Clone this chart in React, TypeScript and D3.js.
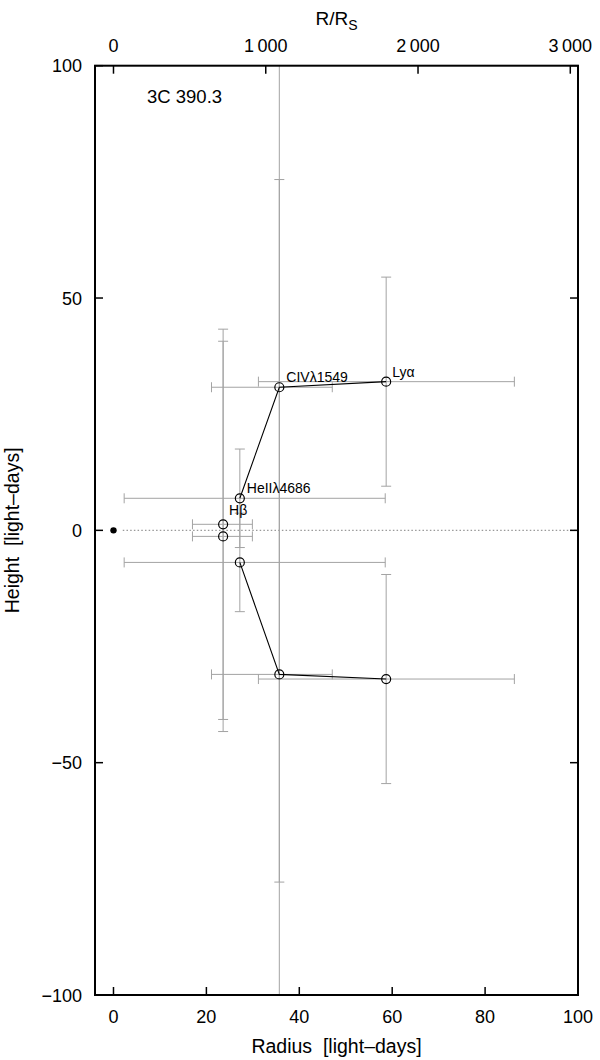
import React from "react";
import * as d3 from "d3";

// Data (light-days)
const lines = ["Hβ", "HeIIλ4686", "CIVλ1549", "Lyα"];
const radius = [23.6, 27.2, 35.7, 58.7];
const radiusLo = [17.0, 2.3, 21.1, 31.2];
const radiusHi = [29.9, 58.5, 47.1, 86.3];
const heightUp = [1.3, 6.9, 30.8, 32.0];
const heightDown = [-1.3, -6.9, -31.0, -32.0];
const heightErrOut = [42.0, 10.6, 44.7, 22.5];
const heightErrIn = [42.0, 10.6, 140.0, 22.5];
const connected = [false, true, true, true];

const xTicks = [0, 20, 40, 60, 80, 100];
const yTicks = [100, 50, 0, -50, -100];
const rsTicks = [0, 1000, 2000, 3000];
const rsTickLabels = ["0", "1\u2009000", "2\u2009000", "3\u2009000"];
const ldPerRs = 0.03278;

const W = 600;
const H = 1060;
const left = 95, right = 578, top = 65.7, bottom = 995;

export default function App() {
  const x = d3.scaleLinear().domain([-3.98, 100]).range([left, right]);
  const y = d3.scaleLinear().domain([-100, 100]).range([bottom, top]);
  const font = "'Liberation Sans', Arial, Helvetica, sans-serif";
  const grey = "#a3a3a3";
  const cap = 5;

  const upper = radius.map((r, i) => ({ r, h: heightUp[i], i, sign: 1 }));
  const lower = radius.map((r, i) => ({ r, h: heightDown[i], i, sign: -1 }));
  const lineGen = d3.line<any>().x((d) => x(d.r)).y((d) => y(d.h));

  const inside = (v: number) => v >= -100 && v <= 100;

  const errBars = (pts: any[]) =>
    pts.map((p) => {
      const i = p.i;
      const cx = x(p.r), cy = y(p.h);
      const x0 = x(radiusLo[i]), x1 = x(radiusHi[i]);
      const outV = p.h + p.sign * heightErrOut[i];
      const inV = p.h - p.sign * heightErrIn[i];
      const yOut = y(outV), yIn = y(inV);
      return (
        <g key={"e" + i + "_" + p.h} stroke={grey} strokeWidth={1} fill="none">
          <line x1={x0} x2={x1} y1={cy} y2={cy} />
          <line x1={x0} x2={x0} y1={cy - cap} y2={cy + cap} />
          <line x1={x1} x2={x1} y1={cy - cap} y2={cy + cap} />
          <line x1={cx} x2={cx} y1={yOut} y2={yIn} />
          {inside(outV) && <line x1={cx - cap} x2={cx + cap} y1={yOut} y2={yOut} />}
          {inside(inV) && <line x1={cx - cap} x2={cx + cap} y1={yIn} y2={yIn} />}
        </g>
      );
    });

  return (
    <svg width={W} height={H} style={{ position: "absolute", left: 0, top: 0 }} fontFamily={font}>
      <defs>
        <clipPath id="plotclip">
          <rect x={left} y={top} width={right - left} height={bottom - top} />
        </clipPath>
      </defs>
      <rect x={0} y={0} width={W} height={H} fill="#fff" />
      <g clipPath="url(#plotclip)">
        {/* zero dotted line */}
        <line x1={x(2)} x2={x(100)} y1={y(0)} y2={y(0)} stroke="#999" strokeWidth={1.3} strokeDasharray="1.5,2.2" />
        {errBars(upper)}
        {errBars(lower)}
      </g>
      <path d={lineGen(upper.filter((p) => connected[p.i])) || ""} fill="none" stroke="#000" strokeWidth={1.1} />
      <path d={lineGen(lower.filter((p) => connected[p.i])) || ""} fill="none" stroke="#000" strokeWidth={1.1} />
      {[...upper, ...lower].map((p, k) => (
        <circle key={"c" + k} cx={x(p.r)} cy={y(p.h)} r={4.5} fill="none" stroke="#000" strokeWidth={1.2} />
      ))}
      <circle cx={x(0)} cy={y(0)} r={3.2} fill="#000" />
      {/* labels */}
      <text x={x(radius[0]) + 6} y={y(heightUp[0]) - 9} fontSize={14}>{lines[0]}</text>
      <text x={x(radius[1]) + 7} y={y(heightUp[1]) - 5} fontSize={14}>{lines[1]}</text>
      <text x={x(radius[2]) + 7} y={y(heightUp[2]) - 5} fontSize={14}>{lines[2]}</text>
      <text x={x(radius[3]) + 6} y={y(heightUp[3]) - 5} fontSize={14}>{lines[3]}</text>
      <text x={147} y={103} fontSize={18.5}>3C 390.3</text>
      {/* frame */}
      <rect x={left} y={top} width={right - left} height={bottom - top} fill="none" stroke="#000" strokeWidth={2} />
      {/* bottom ticks */}
      {xTicks.map((t) => (
        <g key={"xb" + t}>
          <line x1={x(t)} x2={x(t)} y1={bottom} y2={bottom - 8} stroke="#000" strokeWidth={1.5} />
          <text x={x(t)} y={1023} fontSize={18} textAnchor="middle">{t}</text>
        </g>
      ))}
      {/* top ticks */}
      {rsTicks.map((t, i) => (
        <g key={"xt" + t}>
          <line x1={x(t * ldPerRs)} x2={x(t * ldPerRs)} y1={top} y2={top + 8} stroke="#000" strokeWidth={1.5} />
          <text x={x(t * ldPerRs)} y={52} fontSize={18} textAnchor="middle">{rsTickLabels[i]}</text>
        </g>
      ))}
      {/* y ticks */}
      {yTicks.map((t) => (
        <g key={"y" + t}>
          <line x1={left} x2={left + 8} y1={y(t)} y2={y(t)} stroke="#000" strokeWidth={1.5} />
          <line x1={right} x2={right - 8} y1={y(t)} y2={y(t)} stroke="#000" strokeWidth={1.5} />
          <text x={82} y={y(t) + 6.5} fontSize={18} textAnchor="end">{t < 0 ? "\u2212" + Math.abs(t) : t}</text>
        </g>
      ))}
      {/* axis titles */}
      <text x={(left + right) / 2} y={1053} fontSize={19.5} textAnchor="middle">{"Radius\u00a0\u00a0[light\u2013days]"}</text>
      <text transform={`translate(19,${(top + bottom) / 2}) rotate(-90)`} fontSize={19.5} textAnchor="middle">{"Height\u00a0\u00a0[light\u2013days]"}</text>
      <text x={(left + right) / 2} y={25} fontSize={19} textAnchor="middle">
        R/R<tspan fontSize={14} dy={5}>S</tspan>
      </text>
    </svg>
  );
}
